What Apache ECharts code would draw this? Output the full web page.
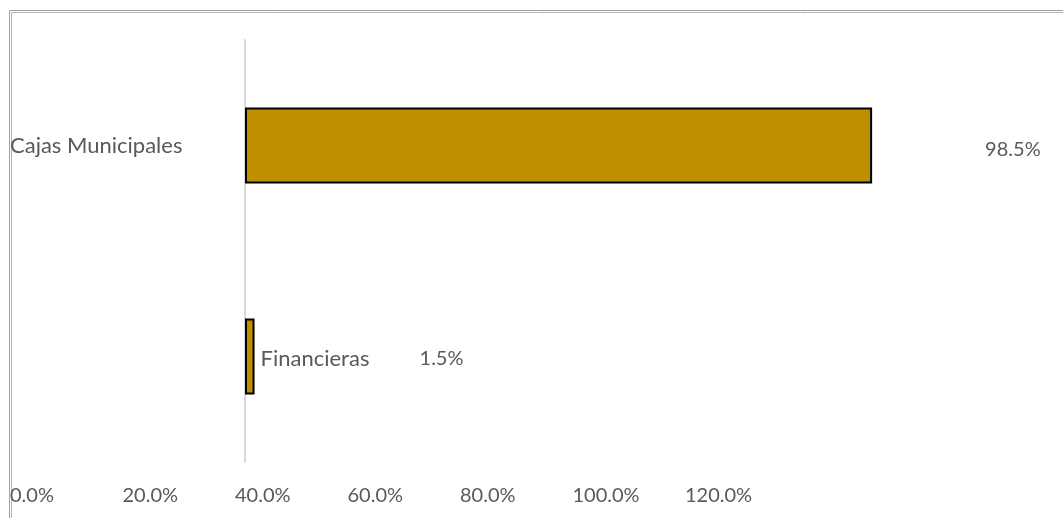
<!DOCTYPE html>
<html>
<head>
<meta charset="utf-8">
<script src="https://cdn.jsdelivr.net/npm/echarts@6/dist/echarts.min.js"></script>
<style>
  html, body { margin: 0; padding: 0; background: #fff; }
  #chart { width: 1063px; height: 518px; }
</style>
</head>
<body>
<div id="chart"></div>
<script>
// Participación por tipo de entidad
const categories = ['Cajas Municipales', 'Financieras'];
const shares = [0.985, 0.015];
const tickLabels = ['0.0%', '20.0%', '40.0%', '60.0%', '80.0%', '100.0%', '120.0%'];

const FONT = 'Lato, "Open Sans", sans-serif';
const TEXT = '#595959';
const pct = v => (v * 100).toFixed(1) + '%';

const chart = echarts.init(document.getElementById('chart'), null, { renderer: 'canvas' });

const barData = shares.map((v, i) => {
  if (i === 0) {
    return {
      value: v,
      label: { formatter: p => pct(p.value), distance: 113, offset: [0, 4] }
    };
  }
  return {
    value: v,
    label: {
      formatter: p => '{n|' + categories[i] + '}{v|' + pct(p.value) + '}',
      distance: 6, offset: [0, 2]
    }
  };
});

chart.setOption({
  animation: false,
  graphic: [
    { type: 'rect', silent: true, shape: { x: 9.5, y: 10.5, width: 1100, height: 600 },
      style: { fill: null, stroke: '#a0a0a0', lineWidth: 1 } },
    { type: 'rect', silent: true, shape: { x: 11.5, y: 12.5, width: 1100, height: 600 },
      style: { fill: null, stroke: '#b4b4b4', lineWidth: 1 } }
  ],
  grid: [
    { left: 245, top: 40, right: 54, bottom: 56, containLabel: false },
    { left: 10, top: 470, width: 675, height: 10, containLabel: false }
  ],
  xAxis: [
    { type: 'value', gridIndex: 0, min: 0, max: 1.2, show: false },
    {
      type: 'value', gridIndex: 1, min: 0, max: 1.2, interval: 0.2,
      axisLine: { show: false }, axisTick: { show: false }, splitLine: { show: false },
      axisLabel: {
        formatter: (v, idx) => tickLabels[idx],
        align: 'left', margin: 6, color: TEXT, fontFamily: FONT, fontSize: 20
      }
    }
  ],
  yAxis: [
    {
      type: 'category', gridIndex: 0, data: categories, inverse: true,
      axisLine: { show: true, lineStyle: { color: '#d9d9d9', width: 2 } },
      axisTick: { show: false },
      splitLine: { show: false },
      axisLabel: {
        formatter: (v, idx) => (idx === 0 ? v : ''),
        align: 'left', margin: 235, color: TEXT, fontFamily: FONT, fontSize: 22,
        padding: [4, 0, 0, 0]
      }
    },
    { type: 'value', gridIndex: 1, show: false }
  ],
  series: [
    {
      type: 'bar',
      xAxisIndex: 0, yAxisIndex: 0,
      data: barData,
      barWidth: '36%',
      itemStyle: { color: '#bf8f00', borderColor: '#000', borderWidth: 2 },
      label: {
        show: true, position: 'right',
        color: TEXT, fontFamily: FONT, fontSize: 20,
        rich: {
          n: { color: TEXT, fontFamily: FONT, fontSize: 22, width: 159 },
          v: { color: TEXT, fontFamily: FONT, fontSize: 20 }
        }
      }
    }
  ]
});
</script>
</body>
</html>
